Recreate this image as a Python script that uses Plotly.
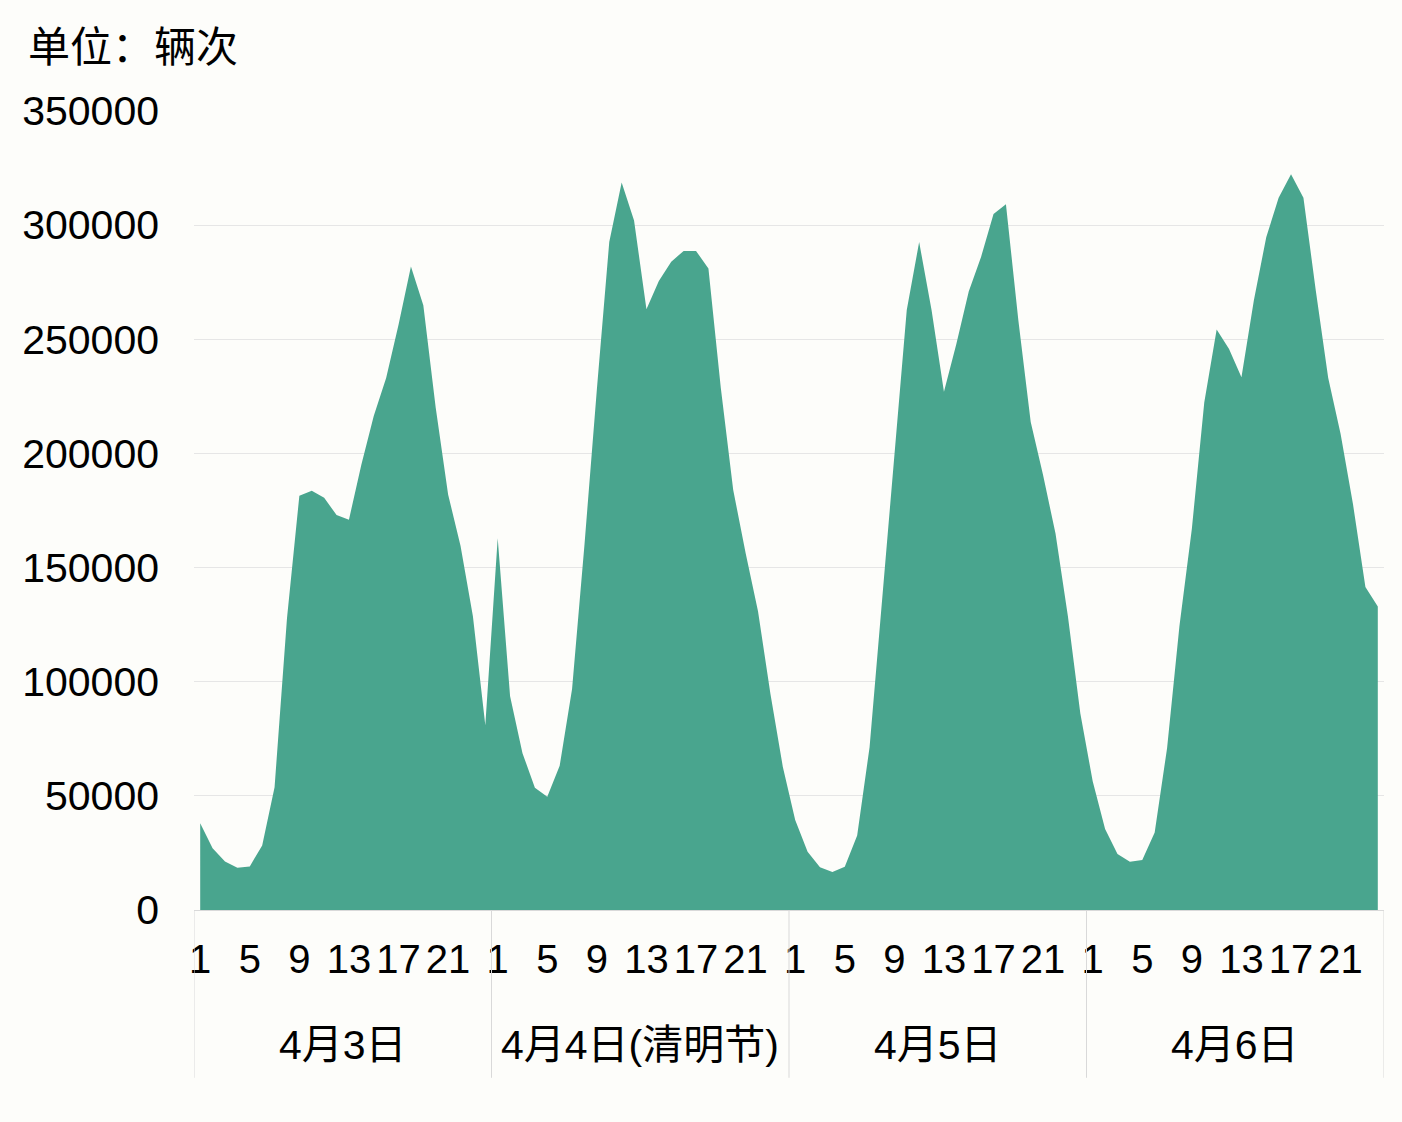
import plotly.graph_objects as go

# 各时段车流量（辆次），每天 1-24 时
hours = list(range(1, 25))
days = ["4月3日", "4月4日(清明节)", "4月5日", "4月6日"]

day1 = [38000, 27000, 21300, 18500, 19100, 28300, 53800, 127700, 181500, 183600, 180600, 173000,
        171000, 195000, 216400, 233000, 256400, 281900, 264900, 220000, 182000, 159600, 128700, 80900]
day2 = [162800, 93600, 68700, 53600, 49600, 63200, 96800, 160000, 228000, 292600, 318700, 302000,
        263200, 275500, 284000, 288700, 288700, 281000, 228700, 184000, 156400, 130900, 94700, 62800]
day3 = [39400, 25500, 18700, 16600, 18900, 32600, 71300, 134000, 196800, 262800, 292600, 262800,
        227000, 247900, 270900, 286200, 304900, 309200, 258500, 213800, 190400, 164900, 128700, 86200]
day4 = [56400, 35500, 24500, 21100, 21900, 34000, 70900, 124500, 167000, 222300, 254300, 245700,
        233400, 267000, 294700, 312000, 322300, 312000, 271300, 233000, 208500, 177700, 141500, 133000]

shown_hours = [1, 5, 9, 13, 17, 21]

valores = day1 + day2 + day3 + day4
xs = list(range(len(valores)))

tickvals = []
ticktext = []
for d in range(len(days)):
    for h in hours:
        if h in shown_hours:
            tickvals.append(d * len(hours) + h - 1)
            ticktext.append(str(h))

fonte = "Liberation Sans, Arial, Noto Sans CJK SC"
fundo = "#fdfdfa"

fig = go.Figure()
fig.add_trace(go.Scatter(x=xs, y=valores, mode="lines", fill="tozeroy",
                         line=dict(width=0, color="#49a58e"), fillcolor="#49a58e",
                         hoverinfo="x+y"))

# separadores e nomes dos dias
n = len(hours)
for d in range(len(days) + 1):
    fig.add_shape(type="line", xref="x", yref="paper", x0=d * n - 0.5, x1=d * n - 0.5,
                  y0=0, y1=-0.21, line=dict(color="#d9d9d9", width=1))
for d, nome in enumerate(days):
    fig.add_annotation(x=d * n + (n - 1) / 2, y=-0.169, xref="x", yref="paper",
                       text=nome, showarrow=False, font=dict(size=41, color="#000000"),
                       yanchor="middle")

fig.update_layout(
    width=1394, height=1114,
    margin=dict(l=186, r=18, t=103, b=212),
    paper_bgcolor=fundo, plot_bgcolor=fundo,
    font=dict(family=fonte, size=40, color="#000000"),
    showlegend=False,
    title=dict(text="单位：辆次", x=20 / 1394, xanchor="left", y=1 - 39 / 1114, yanchor="middle",
               font=dict(size=42, color="#000000")),
)
fig.update_xaxes(range=[-0.5, len(valores) - 0.5], tickvals=tickvals, ticktext=ticktext,
                 showgrid=False, zeroline=False, showline=True, linecolor="#d9d9d9",
                 ticks="outside", ticklen=14, tickcolor="rgba(0,0,0,0)",
                 tickfont=dict(size=40), tickangle=0)
fig.update_yaxes(range=[0, 350000], dtick=50000, tickformat="d", showgrid=True,
                 gridcolor="#e6e6e6", gridwidth=1, zeroline=False, showline=False,
                 ticks="", ticklabelstandoff=34, tickfont=dict(size=41))

fig.write_html("out.html", post_script="document.body.style.background='" + fundo + "';")
